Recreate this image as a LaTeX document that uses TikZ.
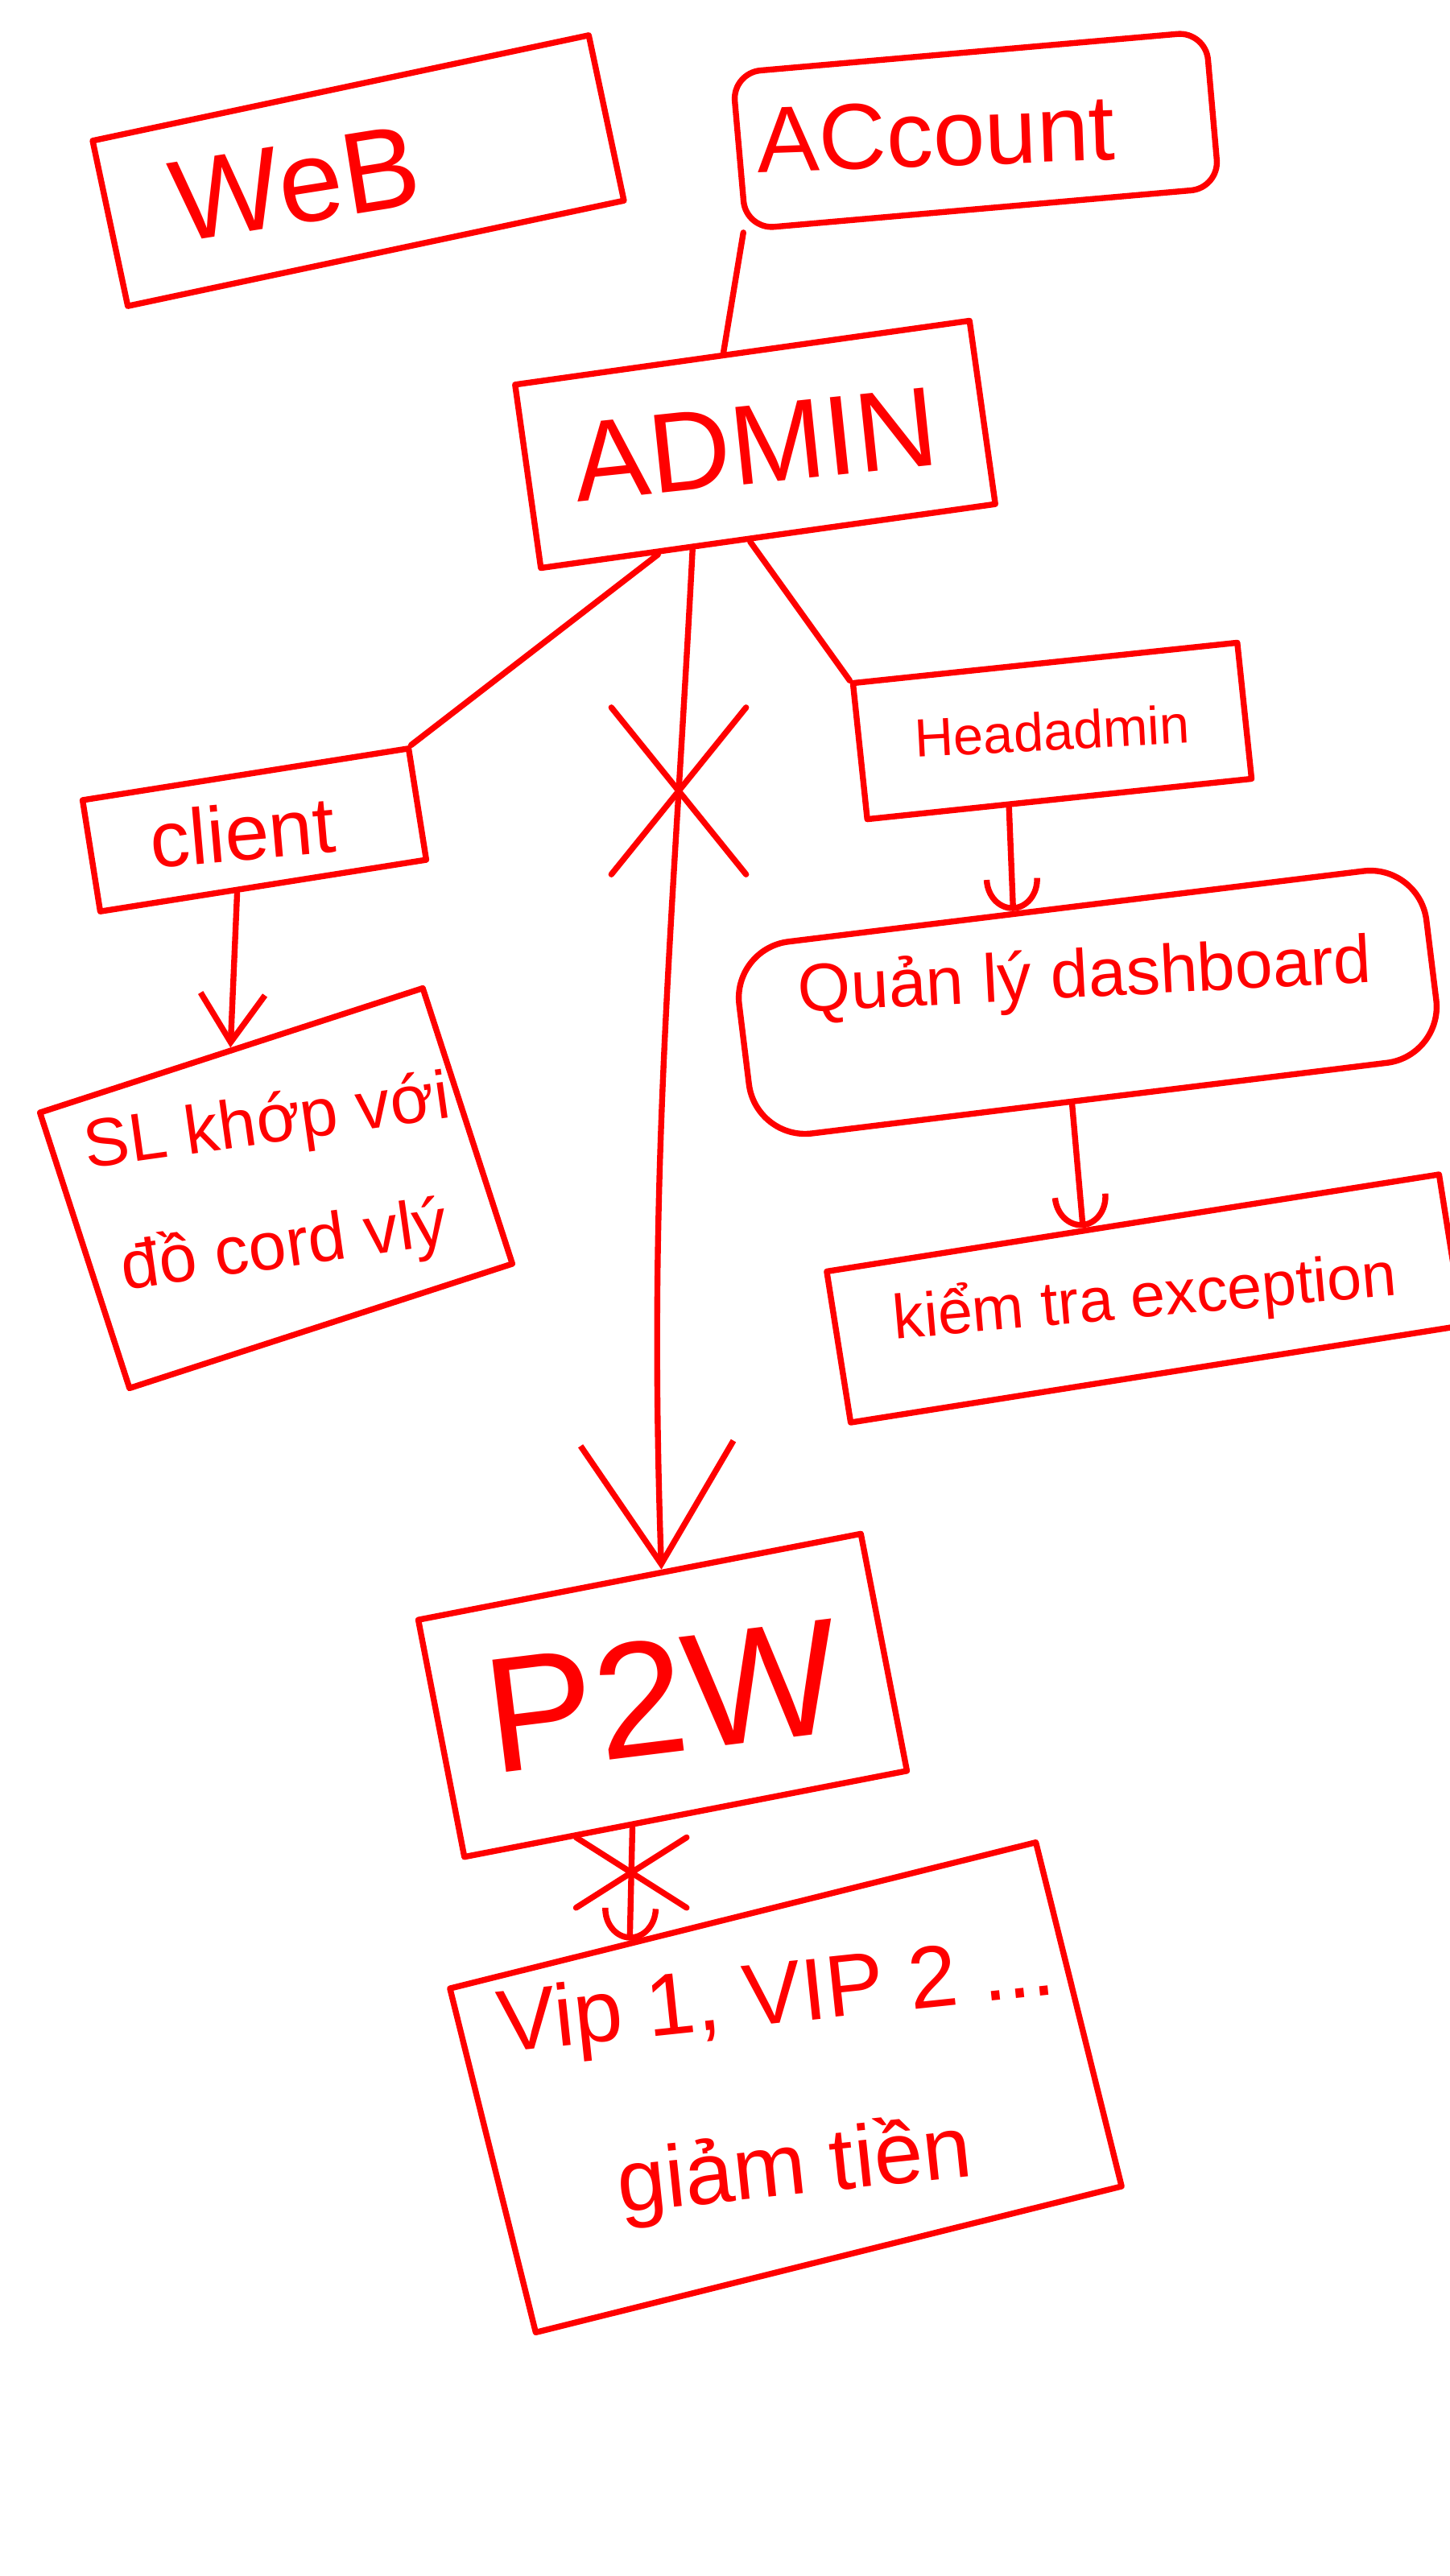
\documentclass[tikz,border=0pt]{standalone}
\usepackage{fontspec}
\setmainfont{Liberation Sans}
\usetikzlibrary{arrows.meta,calc,shapes.misc}

\begin{document}
\begin{tikzpicture}[
  pen/.style={draw=red, line width=2.1pt, line cap=round, line join=round},
  box/.style={pen, text=red, inner sep=0pt, align=center},
  vtip/.style={-{Straight Barb[length=6mm,width=8mm]}},
  utip/.style={-{Arc Barb[length=4mm,width=7mm]}},
  crossmark/.style={pen, cross out, inner sep=0pt}
]
\useasboundingbox (0,0) rectangle (18,-32);

\node[box, rotate=12, minimum width=6.3cm, minimum height=2.1cm, font=\fontsize{41}{48}\selectfont] (web) at (4.45,-2.12) {\rotatebox{-3}{WeB}\hspace{1.6cm}};
\node[box, rotate=5, rounded corners=10pt, minimum width=5.9cm, minimum height=1.95cm, font=\fontsize{33}{40}\selectfont] (account) at (12.12,-1.62) {\rotatebox{-3}{ACcount}\hspace{1cm}};
\node[box, rotate=8, minimum width=5.7cm, minimum height=2.3cm, font=\fontsize{40}{48}\selectfont] (admin) at (9.38,-5.52) {\rotatebox{-2}{ADMIN}};
\node[box, rotate=9, minimum width=4.1cm, minimum height=1.4cm, font=\fontsize{28}{34}\selectfont] (client) at (3.16,-10.31) {\rotatebox{-4}{client}\hspace{0.3cm}};
\node[box, rotate=18, minimum width=5.0cm, minimum height=3.6cm, font=\fontsize{24}{30}\selectfont] (sl) at (3.43,-14.76)
  {\rotatebox{-10}{\begin{tabular}{@{}c@{}}SL khớp với\\[5mm]đồ cord vlý\end{tabular}}};
\node[box, rotate=6, minimum width=4.8cm, minimum height=1.7cm, font=\fontsize{19}{24}\selectfont] (headadmin) at (13.07,-9.08) {\rotatebox{-3}{Headadmin}};
\node[box, rotate=7, rounded corners=20pt, minimum width=8.6cm, minimum height=2.4cm, font=\fontsize{24}{30}\selectfont] (quanly) at (13.51,-12.45) {\rotatebox{-4}{Quản lý dashboard}\\[2mm]};
\node[box, rotate=9, minimum width=7.7cm, minimum height=1.9cm, font=\fontsize{22}{28}\selectfont] (kiemtra) at (14.22,-16.13) {\rotatebox{-4}{kiểm tra exception}};
\node[box, rotate=11, minimum width=5.6cm, minimum height=3.0cm, font=\fontsize{58}{64}\selectfont] (p2w) at (8.23,-21.06) {\rotatebox{-4}{P2W}};
\node[box, rotate=14, minimum width=7.5cm, minimum height=4.0cm, font=\fontsize{31}{38}\selectfont] (vip) at (9.76,-25.93)
  {\rotatebox{-8}{\begin{tabular}{@{}c@{}}Vip 1, VIP 2 ...\\[8mm]giảm tiền\end{tabular}}};

\draw[pen] (account.south west) -- ($(admin.north west)!0.46!(admin.north east)$);
\draw[pen] ($(admin.south west)!0.26!(admin.south east)$) -- (client.north east);
\draw[pen] ($(admin.south west)!0.46!(admin.south east)$) -- (headadmin.north west);
\draw[pen, -{Straight Barb[length=15mm,width=19mm]}] ($(admin.south west)!0.335!(admin.south east)$)
  to[out=-93,in=92] node[crossmark, pos=0.22, minimum width=1.6cm, minimum height=2.0cm] (cut1) {} ($(p2w.north west)!0.55!(p2w.north east)$);
\draw[pen, vtip] ($(client.south west)!0.42!(client.south east)$) -- (sl.north);
\draw[pen, utip] ($(headadmin.south west)!0.37!(headadmin.south east)$) -- ($(quanly.north west)!0.41!(quanly.north east)$);
\draw[pen, utip] ($(quanly.south west)!0.46!(quanly.south east)$) -- ($(kiemtra.north west)!0.42!(kiemtra.north east)$);
\draw[pen, utip] ($(p2w.south west)!0.38!(p2w.south east)$) -- node[crossmark, pos=0.4, minimum width=1.3cm, minimum height=0.8cm] (cut2) {} ($(vip.north west)!0.31!(vip.north east)$);
\end{tikzpicture}
\end{document}
